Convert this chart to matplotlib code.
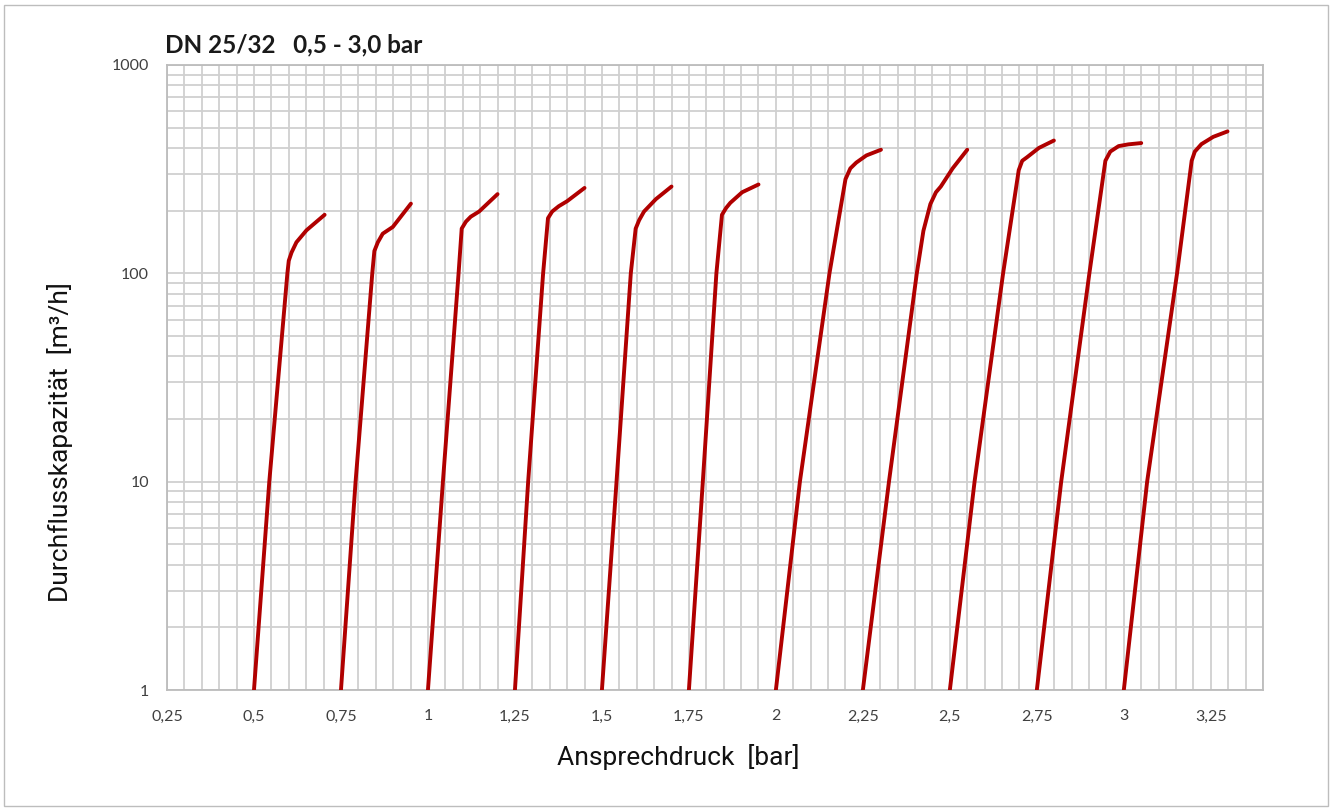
import matplotlib
matplotlib.use("Agg")
import matplotlib.pyplot as plt
from matplotlib.ticker import FixedLocator, MultipleLocator, LogLocator, NullFormatter
from matplotlib.patches import Rectangle

# ---- data ----
title = "DN 25/32   0,5 - 3,0 bar"
x_label = "Ansprechdruck  [bar]"
y_label = "Durchflusskapazität  [m³/h]"

x_ticks = [0.25, 0.5, 0.75, 1.0, 1.25, 1.5, 1.75, 2.0, 2.25, 2.5, 2.75, 3.0, 3.25]
x_tick_labels = ["0,25", "0,5", "0,75", "1", "1,25", "1,5", "1,75", "2",
                 "2,25", "2,5", "2,75", "3", "3,25"]
y_ticks = [1, 10, 100, 1000]
y_tick_labels = ["1", "10", "100", "1000"]

c1_x = [0.500, 0.544, 0.596, 0.600, 0.608, 0.622, 0.651, 0.703]
c1_y = [1, 10, 100, 115, 126, 141, 161, 191]
c2_x = [0.750, 0.792, 0.840, 0.846, 0.856, 0.870, 0.899, 0.951]
c2_y = [1, 10, 100, 128, 141, 155, 167, 216]
c3_x = [1.000, 1.043, 1.088, 1.097, 1.109, 1.123, 1.147, 1.200]
c3_y = [1, 10, 100, 164, 177, 187, 198, 240]
c4_x = [1.250, 1.288, 1.331, 1.345, 1.357, 1.376, 1.400, 1.450]
c4_y = [1, 10, 100, 184, 198, 210, 222, 257]
c5_x = [1.500, 1.542, 1.583, 1.597, 1.607, 1.621, 1.655, 1.700]
c5_y = [1, 10, 100, 164, 180, 198, 227, 261]
c6_x = [1.750, 1.790, 1.829, 1.845, 1.857, 1.869, 1.903, 1.950]
c6_y = [1, 10, 100, 191, 206, 218, 245, 267]
c7_x = [2.000, 2.069, 2.154, 2.200, 2.214, 2.231, 2.260, 2.302]
c7_y = [1, 10, 100, 283, 319, 340, 368, 392]
c8_x = [2.250, 2.325, 2.405, 2.424, 2.444, 2.460, 2.474, 2.508, 2.550]
c8_y = [1, 10, 100, 160, 215, 245, 261, 319, 392]
c9_x = [2.500, 2.571, 2.653, 2.698, 2.708, 2.722, 2.756, 2.799]
c9_y = [1, 10, 100, 313, 347, 361, 400, 434]
c10_x = [2.750, 2.820, 2.901, 2.947, 2.961, 2.985, 3.013, 3.050]
c10_y = [1, 10, 100, 347, 384, 408, 416, 422]
c11_x = [3.000, 3.067, 3.153, 3.195, 3.204, 3.223, 3.257, 3.298]
c11_y = [1, 10, 100, 347, 384, 417, 452, 480]

curves = [(c1_x, c1_y), (c2_x, c2_y), (c3_x, c3_y), (c4_x, c4_y),
          (c5_x, c5_y), (c6_x, c6_y), (c7_x, c7_y), (c8_x, c8_y),
          (c9_x, c9_y), (c10_x, c10_y), (c11_x, c11_y)]

# ---- figure ----
W, H = 1335, 811
fig = plt.figure(figsize=(W / 100, H / 100), dpi=100)
fig.patch.set_facecolor("white")

left, right, top, bottom = 167, 1263, 65, 690
ax = fig.add_axes([left / W, 1 - bottom / H, (right - left) / W, (bottom - top) / H])

line_color = "#B00000"
for xs, ys in curves:
    ax.plot(xs, ys, color=line_color, lw=2.8, solid_capstyle="round",
            solid_joinstyle="round", zorder=3)

ax.set_yscale("log")
ax.set_xlim(0.25, 3.4)
ax.set_ylim(1, 1000)

ax.xaxis.set_major_locator(FixedLocator(x_ticks))
ax.set_xticklabels(x_tick_labels)
ax.xaxis.set_minor_locator(MultipleLocator(0.05))
ax.yaxis.set_major_locator(FixedLocator(y_ticks))
ax.set_yticklabels(y_tick_labels)
ax.yaxis.set_minor_locator(LogLocator(base=10, subs=range(2, 10)))
ax.yaxis.set_minor_formatter(NullFormatter())

grid_color = "#d0d0d0"
ax.grid(which="both", color=grid_color, lw=1.3, zorder=0)
ax.set_axisbelow(True)
for s in ax.spines.values():
    s.set_color("#bcbcbc")
    s.set_linewidth(1.3)

ax.tick_params(which="both", length=0, colors="#404040")
ax.tick_params(axis="y", pad=13)
ax.tick_params(axis="x", pad=14)
for lab in ax.get_xticklabels() + ax.get_yticklabels():
    lab.set_fontfamily(["Lato", "DejaVu Sans"])
    lab.set_fontsize(11.5)
    lab.set_color("#404040")

fig.text(165 / W, 1 - 45 / H, title, fontsize=17.5, fontweight="bold",
         family=["Lato", "DejaVu Sans"], color="#1a1a1a", ha="left", va="center")

fig.text(678 / W, 1 - 757 / H, x_label, fontsize=19,
         family=["Roboto", "DejaVu Sans"], color="#111111", ha="center", va="center")
fig.text(60 / W, 1 - 442 / H, y_label, fontsize=19, rotation=90,
         family=["Roboto", "DejaVu Sans"], color="#111111", ha="center", va="center")

# outer border
fig.patches.append(Rectangle((4 / W, 1 - 806 / H), (1328 - 4) / W, (806 - 5) / H,
                             transform=fig.transFigure, fill=False,
                             edgecolor="#bdbdbd", lw=1.0))

fig.savefig("out.png", dpi=100, facecolor="white")
